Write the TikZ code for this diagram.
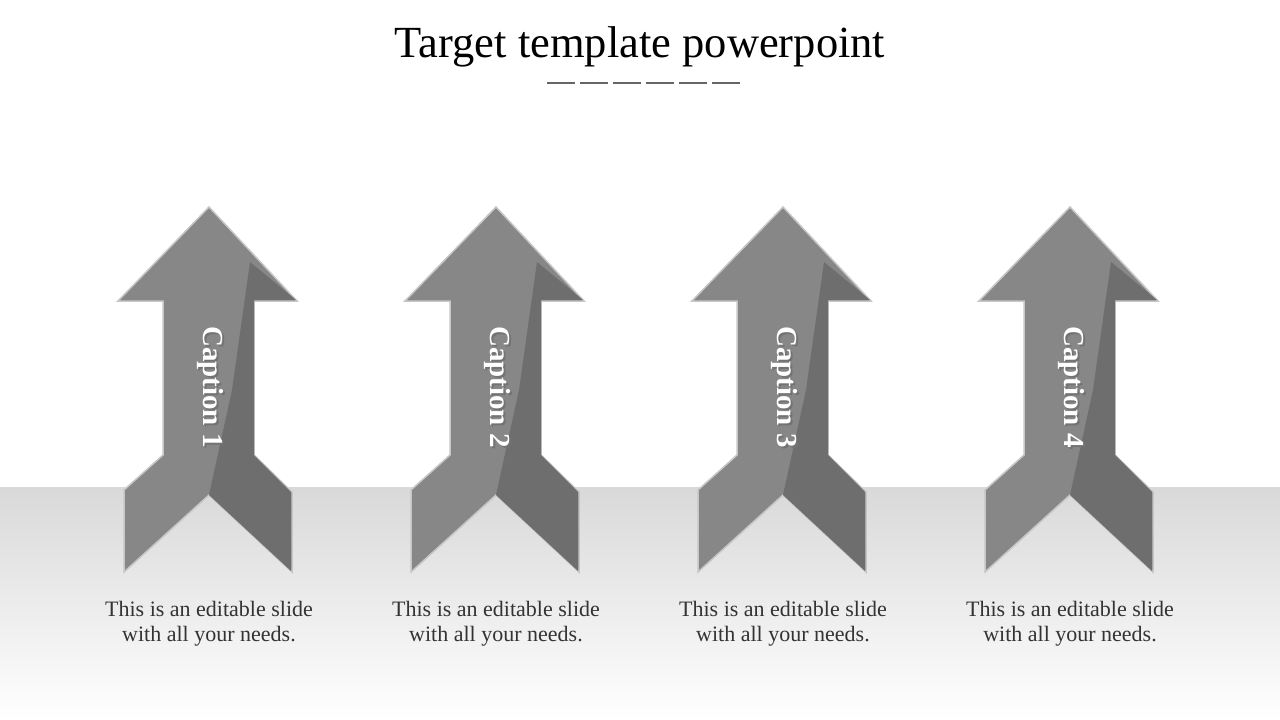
\documentclass[tikz,border=0pt]{standalone}
\usepackage{fontspec}
\setmainfont{Liberation Serif}
\begin{document}
\begin{tikzpicture}[x=1pt,y=-1pt,
  arrowbody/.style={draw=gray!45, line width=1.5pt},
  captext/.style={text=white, font=\fontsize{29}{32}\selectfont\bfseries, rotate=-90},
  desc/.style={font=\fontsize{22}{25}\selectfont, align=center, text=black!80}]
\useasboundingbox (0,0) rectangle (1280,720);
\shade[top color=gray!30, bottom color=white] (0,487) rectangle (1280,720);
\node[font=\fontsize{44.5}{48}\selectfont] (title) at (640,47) {Target template powerpoint};
\foreach \i in {0,...,5}
  \draw[gray!80!black, line width=2pt] (547+\i*33,83) -- (575+\i*33,83);
\foreach \k/\x in {1/209,2/496,3/783,4/1070}{
  \begin{scope}[shift={(\x-209,0)}]
    \draw[arrowbody, fill=black!47] (209,207) -- (297,301) -- (254,301) -- (254,455) -- (292,492) -- (292,572) -- (209,495) -- (124,572) -- (124,490) -- (163,455) -- (163,301) -- (118,301) -- cycle;
    \fill[black!57] (250,262) -- (296,300) -- (254,300) -- (254,455) -- (291,492) -- (291,571) -- (209,495) -- (232,390) -- cycle;
    \node[captext, text=black!55] at (212,389) {Caption \k};
    \node[captext] (c\k) at (210,387) {Caption \k};
    \node[desc] (d\k) at (209,624) {This is an editable slide\\with all your needs.};
  \end{scope}}
\end{tikzpicture}
\end{document}
